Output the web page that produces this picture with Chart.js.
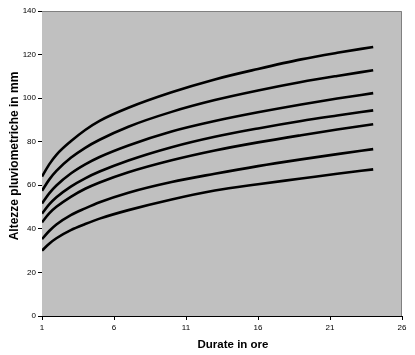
<!DOCTYPE html>
<html>
<head>
<meta charset="utf-8">
<script src="https://cdn.jsdelivr.net/npm/chart.js@4"></script>
<style>
  html, body { margin: 0; padding: 0; background: #fff; }
  #wrap { width: 415px; height: 355px; }
</style>
</head>
<body>
<div id="wrap"><canvas id="grafico" width="415" height="355"></canvas></div>
<script>
// durate (ore) e altezze, una curva per tempo di ritorno
const durate = [1, 1.5, 2, 3, 4, 5, 7, 10, 13, 16, 19, 21.5, 24];
const h1 = [64.0, 69.6, 74.0, 80.2, 85.4, 89.6, 95.6, 102.7, 108.6, 113.4, 117.8, 120.8, 123.5];
const h2 = [57.5, 62.6, 66.6, 72.6, 77.2, 80.9, 86.9, 93.7, 99.1, 103.5, 107.4, 110.2, 112.8];
const h3 = [51.6, 56.3, 59.9, 65.4, 69.6, 73.0, 78.3, 84.7, 89.5, 93.5, 97.1, 99.8, 102.3];
const h4 = [47.0, 51.2, 54.5, 59.4, 63.2, 66.3, 71.4, 77.5, 82.3, 86.1, 89.5, 92.0, 94.4];
const h5 = [43.0, 47.1, 50.1, 54.7, 58.4, 61.3, 66.0, 71.5, 76.0, 79.7, 83.0, 85.6, 88.0];
const h6 = [35.3, 39.0, 42.0, 46.3, 49.4, 52.2, 56.6, 61.5, 65.3, 68.8, 71.9, 74.3, 76.6];
const h7 = [30.0, 33.2, 35.7, 39.4, 42.2, 44.7, 48.6, 53.5, 57.6, 60.5, 63.1, 65.3, 67.3];
const curve = [h1, h2, h3, h4, h5, h6, h7];

const xTicks = [1, 6, 11, 16, 21, 26];
const yTicks = [0, 20, 40, 60, 80, 100, 120, 140];
const titoloX = 'Durate in ore';
const titoloY = 'Altezze pluviometriche in mm';

// sfondo grigio dell'area del grafico + bordo
const sfondo = {
  id: 'sfondo',
  beforeDatasetsDraw(chart) {
    const { ctx, chartArea: a } = chart;
    ctx.save();
    ctx.fillStyle = '#c0c0c0';
    ctx.fillRect(a.left, a.top, a.right - a.left, a.bottom - a.top);
    ctx.strokeStyle = '#808080';
    ctx.lineWidth = 1;
    ctx.beginPath();
    ctx.moveTo(a.left, a.top + 0.5);
    ctx.lineTo(a.right - 0.5, a.top + 0.5);
    ctx.lineTo(a.right - 0.5, a.bottom);
    ctx.stroke();
    ctx.restore();
  }
};

// titoli degli assi (in Excel non sono centrati sull'area del grafico)
const titoli = {
  id: 'titoli',
  afterDraw(chart) {
    const ctx = chart.ctx;
    ctx.save();
    ctx.fillStyle = '#000';
    ctx.textAlign = 'center';
    ctx.textBaseline = 'middle';
    ctx.font = 'bold 11.5px Arial, "Liberation Sans"';
    ctx.fillText(titoloX, 233, 345);
    ctx.translate(15, 156);
    ctx.rotate(-Math.PI / 2);
    ctx.font = 'bold 12px Arial, "Liberation Sans"';
    ctx.fillText(titoloY, 0, 0);
    ctx.restore();
  }
};

const datasets = curve.map(function (serie) {
  return {
    data: serie.map((v, i) => ({ x: durate[i], y: v })),
    borderColor: '#000',
    borderWidth: 2.6,
    pointRadius: 0,
    fill: false,
    cubicInterpolationMode: 'monotone'
  };
});

new Chart(document.getElementById('grafico'), {
  type: 'line',
  data: { datasets: datasets },
  plugins: [sfondo, titoli],
  options: {
    responsive: false,
    animation: false,
    events: [],
    layout: { padding: { left: 0, right: 13, top: 11, bottom: 0 } },
    plugins: { legend: { display: false }, tooltip: { enabled: false } },
    scales: {
      x: {
        type: 'linear',
        min: 1,
        max: 26,
        afterBuildTicks(scale) { scale.ticks = xTicks.map(v => ({ value: v })); },
        afterFit(scale) { scale.height = 39; },
        grid: { drawOnChartArea: false, drawTicks: true, tickLength: 4, color: '#000' },
        border: { display: true, color: '#000', width: 1 },
        ticks: { color: '#000', font: { family: 'Arial, "Liberation Sans"', size: 8 }, padding: 3, maxRotation: 0 }
      },
      y: {
        min: 0,
        max: 140,
        afterBuildTicks(scale) { scale.ticks = yTicks.map(v => ({ value: v })); },
        afterFit(scale) { scale.width = 42; },
        grid: { drawOnChartArea: false, drawTicks: true, tickLength: 4, color: '#000' },
        border: { display: true, color: '#000', width: 1 },
        ticks: { color: '#000', font: { family: 'Arial, "Liberation Sans"', size: 8 }, padding: 2 }
      }
    }
  }
});
</script>
</body>
</html>
